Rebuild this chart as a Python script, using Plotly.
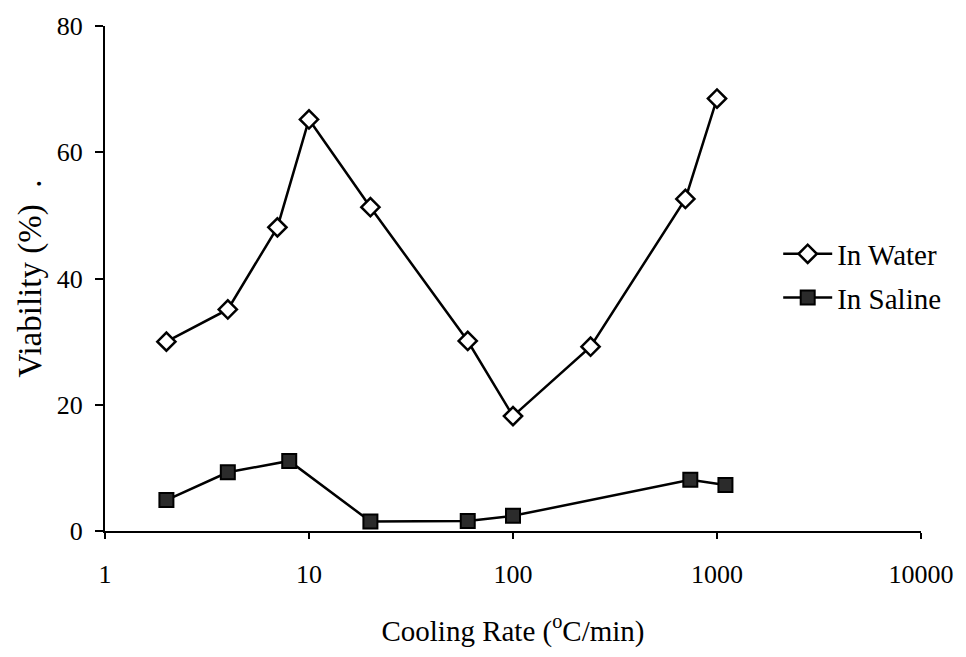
import plotly.graph_objects as go

water_rate = [2, 4, 7, 10, 20, 60, 100, 240, 700, 1000]
water_viability = [30.0, 35.1, 48.1, 65.2, 51.3, 30.1, 18.2, 29.2, 52.6, 68.5]

saline_rate = [2, 4, 8, 20, 60, 100, 740, 1100]
saline_viability = [4.9, 9.3, 11.1, 1.5, 1.6, 2.4, 8.1, 7.3]

x_ticks = [1, 10, 100, 1000, 10000]
x_tick_labels = ["1", "10", "100", "1000", "10000"]
y_ticks = [0, 20, 40, 60, 80]

FONT = "Liberation Serif, Times New Roman, serif"

fig = go.Figure()
fig.add_trace(go.Scatter(
    x=water_rate, y=water_viability, mode="lines+markers", name="In Water",
    legendgroup="w",
    line=dict(color="black", width=2.5),
    marker=dict(symbol="diamond", size=14, color="white",
                line=dict(color="black", width=2.5)),
))
fig.add_trace(go.Scatter(
    x=saline_rate, y=saline_viability, mode="lines+markers", name="In Saline",
    legendgroup="s",
    line=dict(color="black", width=2.5),
    marker=dict(symbol="square", size=14, color="#2b2b2b",
                line=dict(color="black", width=2)),
))

fig.update_layout(
    width=966, height=657,
    margin=dict(l=105, r=45, t=23, b=126),
    paper_bgcolor="white", plot_bgcolor="white",
    font=dict(family=FONT, size=24, color="black"),
    legend=dict(x=0.825, y=0.505, xanchor="left", yanchor="middle",
                bgcolor="rgba(0,0,0,0)", tracegroupgap=3, itemwidth=49,
                font=dict(family=FONT, size=29, color="black")),
)
fig.update_xaxes(
    type="log", range=[0, 4],
    tickvals=x_ticks, ticktext=x_tick_labels,
    showline=True, linecolor="black", linewidth=2,
    ticks="outside", ticklen=6, tickwidth=2, tickcolor="black",
    ticklabelstandoff=13,
    showgrid=False, zeroline=False,
    title=dict(text="Cooling Rate (<sup>o</sup>C/min)", standoff=32,
               font=dict(family=FONT, size=29, color="black")),
    tickfont=dict(family=FONT, size=26, color="black"),
)
fig.update_yaxes(
    range=[0, 80], tickvals=y_ticks,
    showline=True, linecolor="black", linewidth=2,
    ticks="outside", ticklen=8, tickwidth=2, tickcolor="black",
    ticklabelstandoff=7,
    showgrid=False, zeroline=False,
    title=dict(text="Viability (%)  .", standoff=5,
               font=dict(family=FONT, size=33, color="black")),
    tickfont=dict(family=FONT, size=26, color="black"),
)

fig.write_html("out.html")
